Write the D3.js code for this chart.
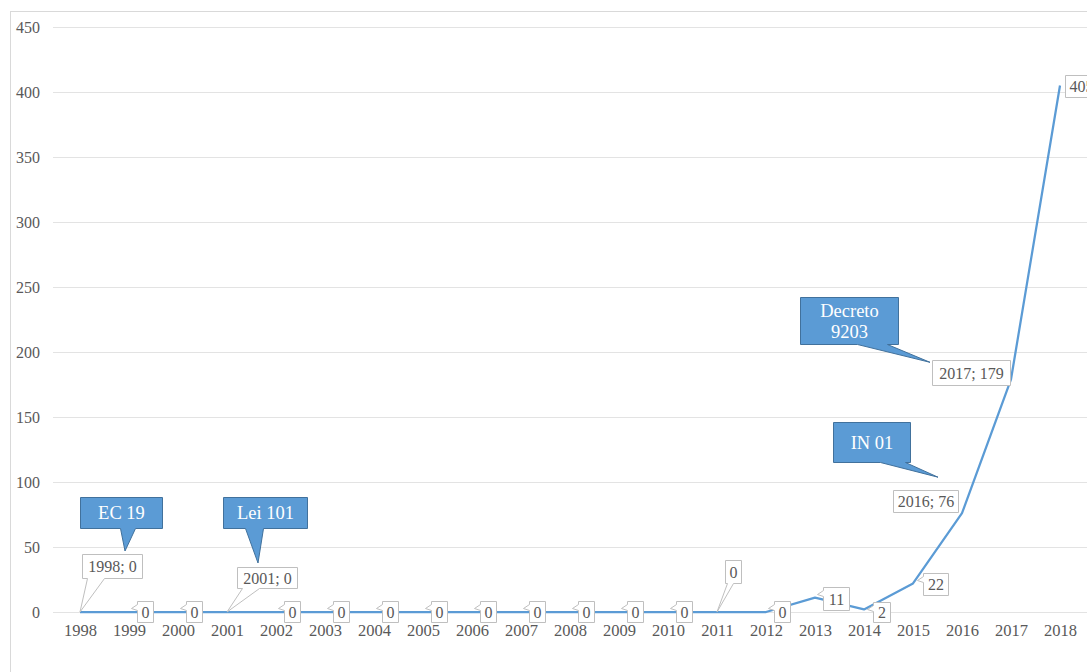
<!DOCTYPE html>
<html><head><meta charset="utf-8">
<script src="https://cdn.jsdelivr.net/npm/d3@7"></script>
<style>html,body{margin:0;padding:0;background:#fff;overflow:hidden}svg{display:block}
svg text{font-family:"Liberation Serif","Times New Roman","DejaVu Serif",serif;}</style>
</head><body>
<script>
const years = [1998,1999,2000,2001,2002,2003,2004,2005,2006,2007,2008,2009,2010,2011,2012,2013,2014,2015,2016,2017,2018];
const values = [0,0,0,0,0,0,0,0,0,0,0,0,0,0,0,11,2,22,76,179,405];
const yTicks = [0,50,100,150,200,250,300,350,400,450];
const noteYears = [1998,2001,2016,2017];
const noteTexts = [["EC 19"],["Lei 101"],["IN 01"],["Decreto","9203"]];
const labelWithYear = [1998,2001,2016,2017];

const W=1087,H=672;
const svg=d3.select("body").append("svg").attr("width",W).attr("height",H);
const grey="#595959";

svg.append("rect").attr("x",10.5).attr("y",11.5).attr("width",1100).attr("height",700)
  .attr("fill","none").attr("stroke","#d9d9d9");

const x=d3.scalePoint().domain(years).range([55.5,1084.5]).padding(0.5);
const y=d3.scaleLinear().domain([0,450]).range([612,27]);

// gridlines
svg.append("g").selectAll("line").data(yTicks).join("line")
  .attr("x1",53).attr("x2",W).attr("y1",d=>Math.round(y(d))+0.5).attr("y2",d=>Math.round(y(d))+0.5)
  .attr("stroke","#e3e3e3").attr("stroke-width",1);

// y axis labels
const yAx=d3.axisLeft(y).tickValues(yTicks).tickSize(0).tickPadding(0);
const gy=svg.append("g").attr("transform","translate(40,0)").call(yAx);
gy.select(".domain").remove();
gy.selectAll("text").attr("font-family",null).style("font-size","16px").attr("fill",grey);

// x axis labels
const xAx=d3.axisBottom(x).tickSize(0).tickPadding(0);
const gx=svg.append("g").attr("transform","translate(0,624)").call(xAx);
gx.select(".domain").remove();
gx.selectAll("text").attr("font-family",null).style("font-size","16.5px").attr("fill",grey);

// line
const pts=years.map((yr,i)=>({yr,v:values[i]}));
svg.append("path").datum(pts)
  .attr("d",d3.line().x(d=>x(d.yr)).y(d=>y(d.v)))
  .attr("fill","none").attr("stroke","#5b9bd5").attr("stroke-width",2.25).attr("stroke-linejoin","round");

// data labels layout (offset from point): dx, dy, w, h, wedge type
function layout(yr,v){
  if(yr===1998) return {dx:2,dy:-58,w:60,h:24,wedge:"down",b0:5,b1:22};
  if(yr===2001) return {dx:10,dy:-45,w:60,h:21,wedge:"down",b0:5,b1:22};
  if(yr===2011) return {dx:8,dy:-52,w:16,h:23,wedge:"down",b0:2,b1:8};
  if(yr===2016) return {dx:-69,dy:-23,w:65,h:22,wedge:null};
  if(yr===2017) return {dx:-79,dy:-19,w:78,h:25,wedge:null};
  if(yr===2018) return {dx:5,dy:-10,w:32,h:22,wedge:null};
  if(yr===2013) return {dx:8,dy:-11,w:26,h:23,wedge:"left"};
  if(yr===2014) return {dx:9,dy:-7,w:17,h:20,wedge:"left"};
  if(yr===2015) return {dx:10,dy:-10,w:25,h:22,wedge:"left"};
  return {dx:8,dy:-11,w:16,h:21,wedge:"left"};
}
const lg=svg.append("g");
pts.forEach(p=>{
  const px=x(p.yr),py=y(p.v);
  const L=layout(p.yr,p.v);
  const x0=Math.round(px+L.dx)+0.5,y0=Math.round(py+L.dy)+0.5,x1=x0+L.w,y1=y0+L.h;
  let d;
  if(L.wedge==="down"){
    d=`M${x0},${y0}H${x1}V${y1}H${x0+L.b1}L${px},${py}L${x0+L.b0},${y1}H${x0}Z`;
  }else if(L.wedge==="left"){
    d=`M${x0},${y0}H${x1}V${y1}H${x0}V${y0+9}L${x0-6},${y0+7}L${x0},${y0+3}Z`;
  }else{
    d=`M${x0},${y0}H${x1}V${y1}H${x0}Z`;
  }
  lg.append("path").attr("d",d).attr("fill","#fff").attr("stroke","#bfbfbf").attr("stroke-width",1);
  const txt=labelWithYear.includes(p.yr)?`${p.yr}; ${p.v}`:`${p.v}`;
  lg.append("text").attr("x",p.yr===2018?x0+4:(x0+x1)/2).attr("y",(y0+y1)/2+5.5)
    .attr("text-anchor",p.yr===2018?"start":"middle")
    .style("font-size","16px").attr("fill",grey).text(txt);
});

// callout notes: box offset from point
function noteLayout(yr){
  if(yr===1998) return {dx:0,dy:-115,w:82,h:31,b0:40,b1:55,tx:45,ty:-61};
  if(yr===2001) return {dx:-4,dy:-115,w:84,h:31,b0:22,b1:40,tx:31,ty:-49};
  if(yr===2016) return {dx:-129,dy:-91,w:77,h:40,b0:47,b1:72,tx:-24,ty:-36};
  if(yr===2017) return {dx:-211,dy:-82,w:98,h:47,b0:57,b1:87,tx:-81,ty:-17};
}
const ng=svg.append("g");
noteYears.forEach((yr,i)=>{
  const v=values[years.indexOf(yr)];
  const px=x(yr),py=y(v);
  const N=noteLayout(yr);
  const x0=Math.round(px+N.dx)+0.5,y0=Math.round(py+N.dy)+0.5,x1=x0+N.w,y1=y0+N.h;
  const tx=px+N.tx,ty=py+N.ty;
  ng.append("path").attr("d",`M${x0},${y0}H${x1}V${y1}H${x0+N.b1}L${tx},${ty}L${x0+N.b0},${y1}H${x0}Z`)
    .attr("fill","#5b9bd5").attr("stroke","#41719c").attr("stroke-width",1);
  const lines=noteTexts[i];
  const lh=21;
  const cy=(y0+y1)/2-(lines.length-1)*lh/2;
  lines.forEach((t,j)=>{
    ng.append("text").attr("x",(x0+x1)/2).attr("y",cy+j*lh+6)
      .attr("text-anchor","middle").style("font-size","18.5px")
      .attr("fill","#fff").text(t);
  });
});
</script>
</body></html>
